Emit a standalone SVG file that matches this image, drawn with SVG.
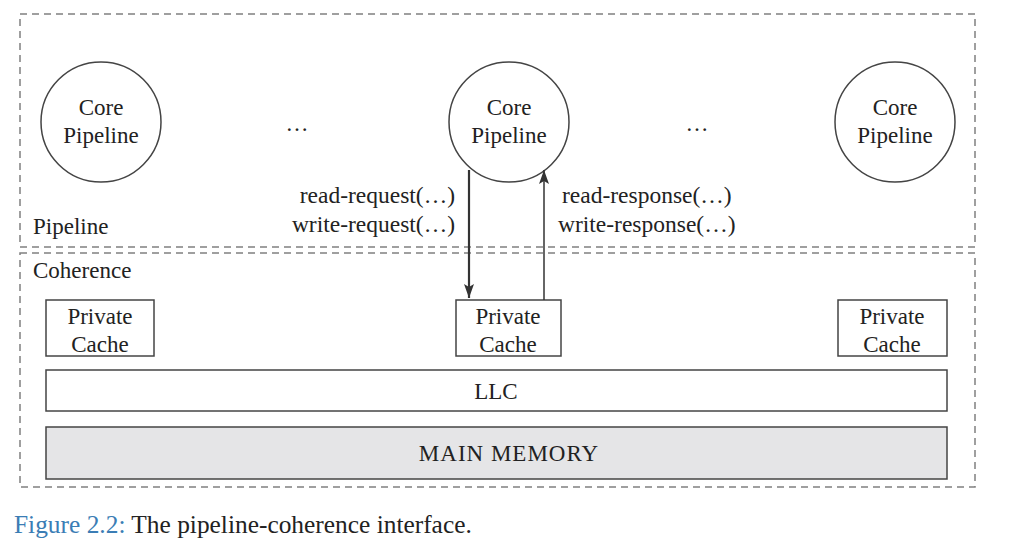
<svg xmlns="http://www.w3.org/2000/svg" width="1024" height="555" viewBox="0 0 1024 555">
<style>
text{font-family:"Liberation Serif","DejaVu Serif",serif;fill:#222;font-size:23px}
.c{text-anchor:middle}
.dash{fill:none;stroke:#808080;stroke-width:1.5;stroke-dasharray:7,5}
.node{fill:#fff;stroke:#444;stroke-width:1.5}
.box{fill:#fff;stroke:#444;stroke-width:1.5}
.mem{fill:#e5e5e7;stroke:#444;stroke-width:1.5}
.lbl{font-size:23.5px}
.cap{font-size:25.4px}
.fig{fill:#3b7db5}
</style>
<defs>
<marker id="ah" viewBox="0 0 14 10" refX="14" refY="5" markerWidth="14" markerHeight="10" markerUnits="userSpaceOnUse" orient="auto">
<path d="M0,0 L14,5 L0,10 L3,5 z" fill="#333"/>
</marker>
</defs>
<rect id="pipeline-region" class="dash" x="20" y="14" width="955" height="233"/>
<rect id="coherence-region" class="dash" x="20" y="253" width="955" height="234"/>
<text x="33" y="234">Pipeline</text>
<text x="33" y="278">Coherence</text>
<g id="core1"><circle class="node" cx="101" cy="122" r="60"/><text class="c" x="101" y="115">Core</text><text class="c" x="101" y="143">Pipeline</text></g>
<g id="core2"><circle class="node" cx="509" cy="122" r="60"/><text class="c" x="509" y="115">Core</text><text class="c" x="509" y="143">Pipeline</text></g>
<g id="core3"><circle class="node" cx="895" cy="122" r="60"/><text class="c" x="895" y="115">Core</text><text class="c" x="895" y="143">Pipeline</text></g>
<text class="c" x="297" y="131">…</text>
<text class="c" x="697" y="131">…</text>
<g id="cache1"><rect class="box" x="46" y="300" width="108" height="56"/><text class="c" x="100" y="324">Private</text><text class="c" x="100" y="352">Cache</text></g>
<g id="cache2"><rect class="box" x="456" y="300" width="105" height="56"/><text class="c" x="508" y="324">Private</text><text class="c" x="508" y="352">Cache</text></g>
<g id="cache3"><rect class="box" x="838" y="300" width="109" height="56"/><text class="c" x="892" y="324">Private</text><text class="c" x="892" y="352">Cache</text></g>
<g id="llc"><rect class="box" x="46" y="370" width="901" height="41"/><text class="c" x="496" y="399">LLC</text></g>
<g id="main-memory"><rect class="mem" x="46" y="427" width="901" height="52"/><text class="c" x="509" y="461" letter-spacing="1">MAIN MEMORY</text></g>
<g id="connectors">
<line x1="469" y1="170" x2="469" y2="298" stroke="#333" stroke-width="2.2" marker-end="url(#ah)"/>
<line x1="544" y1="300" x2="544" y2="170" stroke="#333" stroke-width="1.5" marker-end="url(#ah)"/>
</g>
<text class="lbl" x="455" y="203" text-anchor="end">read-request(…)</text>
<text class="lbl" x="455" y="232" text-anchor="end">write-request(…)</text>
<text class="lbl" x="562" y="203">read-response(…)</text>
<text class="lbl" x="558" y="232">write-response(…)</text>
<text class="cap" x="14" y="533"><tspan class="fig">Figure 2.2:</tspan> The pipeline-coherence interface.</text>
</svg>
